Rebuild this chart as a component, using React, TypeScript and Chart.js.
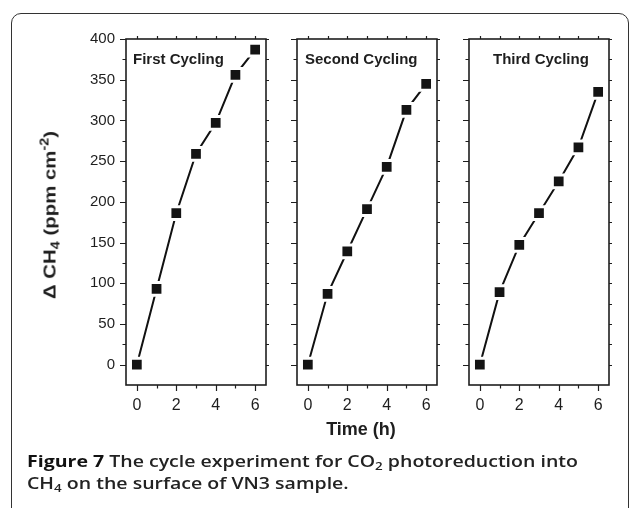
import React, { useEffect, useRef } from "react";
import { Chart, registerables } from "chart.js";

Chart.register(...registerables);

// ---- data ----
const timeHours = [0, 1, 2, 3, 4, 5, 6];
const firstCycling = [0, 93, 186, 259, 297, 356, 387];
const secondCycling = [0, 87, 139, 191, 243, 313, 345];
const thirdCycling = [0, 89, 147, 186, 225, 267, 335];
const panelTitles = ["First Cycling", "Second Cycling", "Third Cycling"];
const yTickValues = [0, 50, 100, 150, 200, 250, 300, 350, 400];
const xTickValues = [0, 2, 4, 6];
const yMinorStep = 25;
const xMinorStep = 1;

const seriesList = [firstCycling, secondCycling, thirdCycling];

// ---- layout ----
const W = 630;
const H = 508;
const PLOT_TOP = 39;
const PLOT_BOTTOM = 385;
const panelLefts = [126, 297, 469];
const panelRights = [266, 437, 609];
const titleLefts = [133, 305, 493];
const Y_AXIS_W = 70;
const X_AXIS_H = 30;
const FONT = "'Liberation Sans', Arial, Helvetica, sans-serif";
const INK = "#1e1e1e";

const frameTicks = {
  id: "frameTicks",
  afterDatasetsDraw(chart: any) {
    const { ctx, chartArea, scales } = chart;
    const { left, right, top, bottom } = chartArea;
    const xs = scales.x;
    const ys = scales.y;
    ctx.save();
    ctx.strokeStyle = INK;
    ctx.lineWidth = 1.6;
    ctx.strokeRect(left, top, right - left, bottom - top);
    ctx.lineWidth = 1.2;
    ctx.beginPath();
    const yMax = yTickValues[yTickValues.length - 1];
    for (let v = yTickValues[0]; v <= yMax; v += yMinorStep) {
      const py = Math.round(ys.getPixelForValue(v)) + 0.5;
      const major = yTickValues.includes(v);
      const len = major ? 6 : 3.5;
      ctx.moveTo(left, py);
      ctx.lineTo(left - len, py);
      ctx.moveTo(right, py);
      ctx.lineTo(right + 3, py);
    }
    const xMax = xTickValues[xTickValues.length - 1];
    for (let v = xTickValues[0]; v <= xMax; v += xMinorStep) {
      const px = Math.round(xs.getPixelForValue(v)) + 0.5;
      const major = xTickValues.includes(v);
      const len = major ? 6 : 3.5;
      ctx.moveTo(px, bottom);
      ctx.lineTo(px, bottom + len);
      ctx.moveTo(px, top);
      ctx.lineTo(px, top - 3);
    }
    ctx.stroke();
    ctx.restore();
  },
};

function Panel({ index }: { index: number }) {
  const ref = useRef<HTMLCanvasElement>(null);
  useEffect(() => {
    const canvas = ref.current!;
    const values = seriesList[index];
    const showY = index === 0;
    const chart = new Chart(canvas, {
      type: "line",
      data: {
        datasets: [
          {
            data: timeHours.map((t, j) => ({ x: t, y: values[j] })),
            borderColor: "#111",
            borderWidth: 2,
            pointStyle: "rect",
            pointRadius: 9,
            pointBackgroundColor: "#141414",
            pointBorderColor: "#ffffff",
            pointBorderWidth: 3,
            tension: 0,
          },
        ],
      },
      options: {
        responsive: false,
        animation: false,
        devicePixelRatio: 1,
        layout: {
          padding: {
            left: panelLefts[index] - Y_AXIS_W,
            right: W - panelRights[index],
            top: PLOT_TOP,
            bottom: H - PLOT_BOTTOM - X_AXIS_H,
          },
        },
        plugins: {
          legend: { display: false },
          tooltip: { enabled: false },
          title: { display: false },
        },
        scales: {
          x: {
            type: "linear",
            position: "bottom",
            min: -0.55,
            max: 6.55,
            grid: { display: false, drawTicks: false },
            border: { display: false },
            afterBuildTicks: (scale: any) => {
              scale.ticks = xTickValues.map((v) => ({ value: v }));
            },
            afterFit: (scale: any) => {
              scale.height = X_AXIS_H;
            },
            ticks: {
              padding: 11,
              color: INK,
              font: { family: FONT, size: 16 },
              maxRotation: 0,
              autoSkip: false,
            },
          },
          y: {
            type: "linear",
            position: "left",
            min: -25,
            max: 400,
            grid: { display: false, drawTicks: false },
            border: { display: false },
            afterBuildTicks: (scale: any) => {
              scale.ticks = yTickValues.map((v) => ({ value: v }));
            },
            afterFit: (scale: any) => {
              scale.width = Y_AXIS_W;
            },
            ticks: {
              display: showY,
              padding: 11,
              color: INK,
              font: { family: FONT, size: 15 },
              autoSkip: false,
            },
          },
        },
      },
      plugins: [frameTicks],
    } as any);
    return () => chart.destroy();
  }, [index]);
  return (
    <canvas
      ref={ref}
      width={W}
      height={H}
      style={{ position: "absolute", left: 0, top: 0, width: W, height: H }}
    />
  );
}

export default function App() {
  const bold = { fontFamily: FONT, fontWeight: 700, color: INK } as const;
  return (
    <div
      style={{
        position: "absolute",
        left: 0,
        top: 0,
        width: W,
        height: H,
        background: "#fff",
        overflow: "hidden",
      }}
    >
      <div
        style={{
          position: "absolute",
          left: 11,
          top: 13,
          width: 618,
          height: 540,
          border: "1.6px solid #333",
          borderRadius: 10,
          boxSizing: "border-box",
        }}
      />
      {[0, 1, 2].map((i) => (
        <Panel key={i} index={i} />
      ))}
      {panelTitles.map((t, i) => (
        <div
          key={t}
          style={{
            ...bold,
            position: "absolute",
            left: titleLefts[i],
            top: 50.5,
            fontSize: 15,
            lineHeight: "15px",
            whiteSpace: "nowrap",
          }}
        >
          {t}
        </div>
      ))}
      <div
        style={{
          ...bold,
          position: "absolute",
          left: 51,
          top: 215,
          fontSize: 17,
          lineHeight: "17px",
          whiteSpace: "nowrap",
          transform: "translate(-50%, -50%) rotate(-90deg) scaleX(1.2)",
        }}
      >
        Δ CH
        <span style={{ fontSize: 12, position: "relative", top: 4 }}>4</span>
        {" (ppm cm"}
        <span style={{ fontSize: 12, position: "relative", top: -7 }}>-2</span>
        {")"}
      </div>
      <div
        style={{
          ...bold,
          position: "absolute",
          left: 361,
          top: 429,
          fontSize: 18,
          lineHeight: "18px",
          whiteSpace: "nowrap",
          transform: "translate(-50%, -50%)",
        }}
      >
        Time (h)
      </div>
      <div
        style={{
          position: "absolute",
          left: 27,
          top: 451,
          fontFamily: "'Open Sans', 'Noto Sans', sans-serif",
          fontWeight: 600,
          fontSize: 16,
          lineHeight: "20px",
          color: "#222",
          whiteSpace: "nowrap",
          transform: "scaleX(1.22)",
          transformOrigin: "left top",
        }}
      >
        <div>
          <span style={{ fontWeight: 700, color: "#111" }}>Figure 7</span> The
          cycle experiment for CO
          <span style={{ fontSize: 11, position: "relative", top: 3 }}>2</span>{" "}
          photoreduction into
        </div>
        <div>
          CH
          <span style={{ fontSize: 11, position: "relative", top: 3 }}>4</span>{" "}
          on the surface of VN3 sample.
        </div>
      </div>
    </div>
  );
}
